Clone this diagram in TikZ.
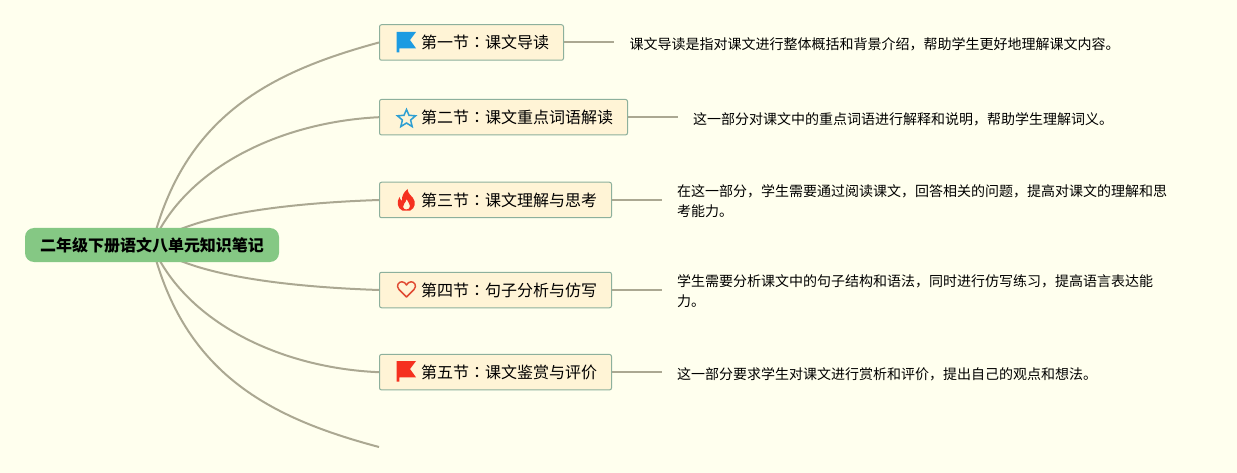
\documentclass[tikz,border=0pt]{standalone}
\usepackage{fontspec}
\setmainfont{Noto Sans CJK SC}
\newfontfamily\cjktc{Noto Sans CJK TC}
\newcommand{\cln}{{\cjktc ：}}
\newcommand{\sectext}[1]{\hspace*{41.5pt}\raisebox{-0.7pt}{#1}\hspace*{14.5pt}}
\pgfdeclarelayer{deep}
\pgfdeclarelayer{edges}
\pgfsetlayers{deep,edges,main}
\definecolor{pagebg}{HTML}{FFFFEE}
\definecolor{rootfill}{HTML}{85C884}
\definecolor{secfill}{HTML}{FFF4D6}
\definecolor{secline}{HTML}{8DB09C}
\definecolor{wire}{HTML}{ABA892}
\definecolor{iconblue}{HTML}{1C9BE2}
\definecolor{iconstar}{HTML}{2F9FD2}
\definecolor{iconred}{HTML}{F5301F}
\definecolor{iconheart}{HTML}{E04A32}
\tikzset{
  x=1pt,y=-1pt,
  rootbox/.style={fill=rootfill,rounded corners=9pt,minimum width=254pt,minimum height=34pt,inner sep=0pt,font=\bfseries\fontsize{16pt}{20pt}\selectfont,text=black},
  secbox/.style={draw=secline,line width=1pt,fill=secfill,rounded corners=2pt,minimum height=35.5pt,inner xsep=0pt,inner ysep=0pt,anchor=west,font=\fontsize{16pt}{20pt}\selectfont,text=black},
  desc/.style={anchor=west,align=left,inner sep=0pt,font=\fontsize{14pt}{20pt}\selectfont,text=black},
  wirepath/.style={draw=wire,line width=2pt},
}
\begin{document}
\begin{tikzpicture}
\useasboundingbox (0,0) rectangle (1237,473);
\begin{pgfonlayer}{deep}
\fill[pagebg] (0,0) rectangle (1237,473);
\end{pgfonlayer}
\node[rootbox] (root) at (152,245) {\raisebox{-0.7pt}{二年级下册语文八单元知识笔记}};
\node[secbox] (n1) at (379,42.5) {\sectext{第一节\cln 课文导读}};
\node[secbox] (n2) at (379,117.2) {\sectext{第二节\cln 课文重点词语解读}};
\node[secbox] (n3) at (379,200) {\sectext{第三节\cln 课文理解与思考}};
\node[secbox] (n4) at (379,290) {\sectext{第四节\cln 句子分析与仿写}};
\node[secbox] (n5) at (379,372.2) {\sectext{第五节\cln 课文鉴赏与评价}};
\coordinate (n6) at (379,447);
\coordinate (e1) at (614,42.5);
\coordinate (e2) at (678,117.2);
\coordinate (e3) at (662,200);
\coordinate (e4) at (662,290);
\coordinate (e5) at (662,372.2);
\node[desc] (d1) at (629.4,44) {课文导读是指对课文进行整体概括和背景介绍，帮助学生更好地理解课文内容。};
\node[desc] (d2) at (693,119) {这一部分对课文中的重点词语进行解释和说明，帮助学生理解词义。};
\node[desc] (d3) at (677,201) {在这一部分，学生需要通过阅读课文，回答相关的问题，提高对课文的理解和思\\考能力。};
\node[desc] (d4) at (677,291) {学生需要分析课文中的句子结构和语法，同时进行仿写练习，提高语言表达能\\力。};
\node[desc] (d5) at (677,374) {这一部分要求学生对课文进行赏析和评价，提出自己的观点和想法。};
\begin{pgfonlayer}{edges}
\draw[wirepath] (root.center) .. controls (184,116) and (270,72) .. (n1.west);
\draw[wirepath] (root.center) .. controls (185,168) and (280,122) .. (n2.west);
\draw[wirepath] (root.center) .. controls (190,214) and (290,203) .. (n3.west);
\draw[wirepath] (root.center) .. controls (190,276) and (290,287) .. (n4.west);
\draw[wirepath] (root.center) .. controls (185,322) and (280,368) .. (n5.west);
\draw[wirepath] (root.center) .. controls (184,374) and (270,418) .. (n6);
\draw[wirepath] (n1.east) -- (e1);
\draw[wirepath] (n2.east) -- (e2);
\draw[wirepath] (n3.east) -- (e3);
\draw[wirepath] (n4.east) -- (e4);
\draw[wirepath] (n5.east) -- (e5);
\end{pgfonlayer}
% icons
\fill[iconblue] (396.7,32) -- (416,32) -- (410,40) -- (416,48.3) -- (399.4,48.3) -- (399.4,52.5) -- (396.7,52.5) -- cycle;
\fill[iconred] (396.7,361) -- (416,361) -- (410,369) -- (416,377.3) -- (399.4,377.3) -- (399.4,381.5) -- (396.7,381.5) -- cycle;
\draw[iconstar,line width=1.5pt,line join=miter] (406.5,109.5) -- (409,115.3) -- (415.6,115.8) -- (410.6,120) -- (412.2,126.6) -- (406.5,123) -- (400.8,126.6) -- (402.4,120) -- (397.4,115.8) -- (404,115.3) -- cycle;
\fill[iconred,even odd rule] (407.5,189) .. controls (408,194) and (411,195) .. (413,198) .. controls (416,202) and (415.5,208) .. (410,210.7) -- (402.5,210.7) .. controls (397,208) and (396.5,202) .. (399.5,197) .. controls (400,199) and (400.5,200) .. (402,201) .. controls (401.5,196) and (404,192) .. (407.5,189) -- cycle
 (406.5,199) .. controls (406,203) and (402.5,204) .. (403,207) .. controls (403.5,209) and (405,209.5) .. (406.5,209.5) .. controls (408.5,209.5) and (410,208) .. (410,206) .. controls (410,203) and (407.5,202) .. (406.5,199) -- cycle;
\draw[iconheart,line width=1.5pt,line join=round] (406.5,297) -- (399,289.5) .. controls (395.5,285.5) and (399,281.5) .. (402,281.8) .. controls (404,282) and (405.5,283) .. (406.5,285) .. controls (407.5,283) and (409,282) .. (411,281.8) .. controls (414,281.5) and (417.5,285.5) .. (414,289.5) -- cycle;
\end{tikzpicture}
\end{document}
